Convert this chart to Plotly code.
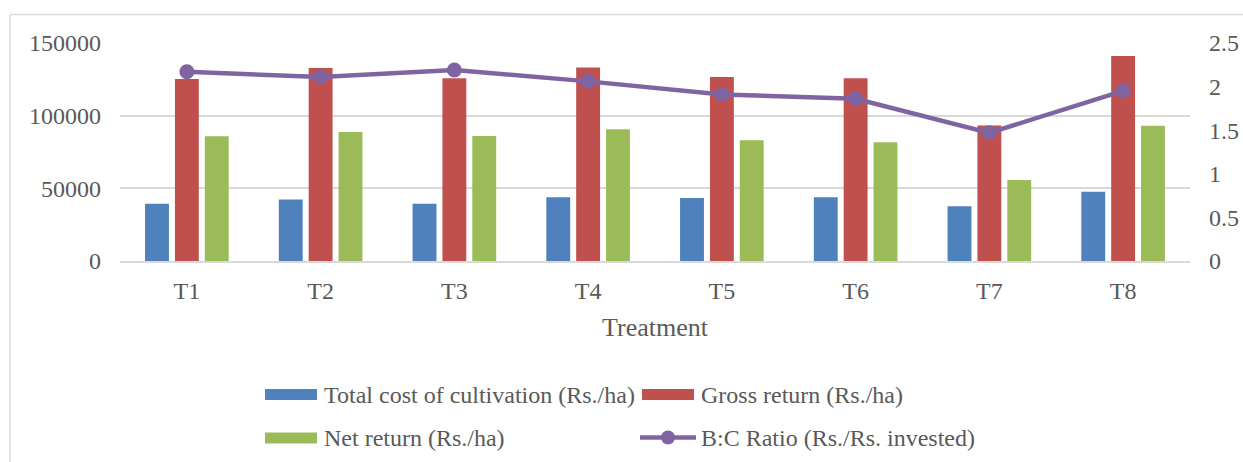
import plotly.graph_objects as go

# ---- data ----
treatments = ["T1", "T2", "T3", "T4", "T5", "T6", "T7", "T8"]
total_cost = [39400, 42400, 39400, 43800, 43300, 43800, 37600, 47700]
gross_return = [125200, 132800, 125700, 133200, 126600, 125700, 93300, 141000]
net_return = [85800, 88700, 86000, 90600, 83000, 81700, 55700, 93100]
bc_ratio = [2.17, 2.11, 2.19, 2.06, 1.91, 1.86, 1.47, 1.95]

series_names = [
    "Total cost of cultivation (Rs./ha)",
    "Gross return (Rs./ha)",
    "Net return (Rs./ha)",
    "B:C Ratio (Rs./Rs. invested)",
]
left_ticks = [0, 50000, 100000, 150000]
right_ticks = [0, 0.5, 1, 1.5, 2, 2.5]
right_tick_text = ["0", "0.5", "1", "1.5", "2", "2.5"]

# ---- style ----
colors = ["#4F81BD", "#C0504D", "#9BBB59", "#8064A2"]
FONT = "Liberation Serif"
TXT = "#595959"
GRID = "#D9D9D9"

W, H = 1243, 462
L, R, T, B = 120, 53, 43, 201
pw, ph = W - L - R, H - T - B


def px(x):
    return (x - L) / pw


def py(y):
    return (H - B - y) / ph


fig = go.Figure()
for name, vals, col in zip(series_names[:3], [total_cost, gross_return, net_return], colors[:3]):
    fig.add_trace(go.Bar(x=treatments, y=vals, name=name, marker_color=col,
                         marker_line_width=0, showlegend=False))

fig.add_trace(go.Scatter(x=treatments, y=bc_ratio, name=series_names[3], yaxis="y2",
                         mode="lines+markers", line=dict(color=colors[3], width=4.5),
                         marker=dict(size=15, color=colors[3]), showlegend=False))

shapes = []
annotations = []

# outer chart border (left and top visible)
shapes.append(dict(type="line", xref="paper", yref="paper", x0=px(10), x1=px(1260),
                   y0=py(14.5), y1=py(14.5), line=dict(color=GRID, width=1.5)))
shapes.append(dict(type="line", xref="paper", yref="paper", x0=px(10), x1=px(10),
                   y0=py(14.5), y1=py(480), line=dict(color=GRID, width=1.5)))

# x-axis title
annotations.append(dict(text="Treatment", xref="paper", yref="paper", x=px(655), y=py(327),
                        xanchor="center", yanchor="middle", showarrow=False,
                        font=dict(family=FONT, size=26, color=TXT)))

# manual legend
legend_items = [
    (series_names[0], colors[0], 265, 394.5, "bar"),
    (series_names[1], colors[1], 642, 394.5, "bar"),
    (series_names[2], colors[2], 265, 438, "bar"),
    (series_names[3], colors[3], 640, 437.5, "line"),
]
for name, col, x0, yc, kind in legend_items:
    if kind == "bar":
        shapes.append(dict(type="rect", xref="paper", yref="paper", x0=px(x0), x1=px(x0 + 52),
                           y0=py(yc + 5.5), y1=py(yc - 5.5), fillcolor=col, line=dict(width=0)))
        tx = x0 + 57
    else:
        shapes.append(dict(type="line", xref="paper", yref="paper", x0=px(x0), x1=px(x0 + 56),
                           y0=py(yc), y1=py(yc), line=dict(color=col, width=4.5)))
        shapes.append(dict(type="circle", xref="paper", yref="paper", x0=px(x0 + 28 - 7),
                           x1=px(x0 + 28 + 7), y0=py(yc + 7), y1=py(yc - 7),
                           fillcolor=col, line=dict(width=0)))
        tx = x0 + 59
    annotations.append(dict(text=name, xref="paper", yref="paper", x=px(tx), y=py(yc),
                            xanchor="left", yanchor="middle", showarrow=False,
                            font=dict(family=FONT, size=24, color=TXT)))

fig.update_layout(
    width=W, height=H,
    margin=dict(l=L, r=R, t=T, b=B, autoexpand=False),
    paper_bgcolor="white", plot_bgcolor="white",
    barmode="group", bargap=0.33, bargroupgap=0.2,
    font=dict(family=FONT, size=24, color=TXT),
    xaxis=dict(showgrid=False, showline=True, linecolor=GRID, linewidth=1.5,
               ticks="", tickfont=dict(family=FONT, size=24, color=TXT),
               ticklabelstandoff=7),
    yaxis=dict(range=[0, 150000], tickvals=left_ticks, ticktext=[str(v) for v in left_ticks],
               showgrid=True, gridcolor=GRID, gridwidth=1.5, zeroline=False, showline=False,
               ticks="", ticklabelstandoff=18, tickfont=dict(family=FONT, size=24, color=TXT)),
    yaxis2=dict(range=[0, 2.5], tickvals=right_ticks, ticktext=right_tick_text,
                overlaying="y", side="right", showgrid=False, zeroline=False, showline=False,
                ticks="", ticklabelstandoff=18, tickfont=dict(family=FONT, size=24, color=TXT)),
    shapes=shapes,
    annotations=annotations,
)

fig.write_html("out.html", config={"displayModeBar": False},
               post_script="document.body.style.margin='0';document.body.style.overflow='hidden';")
